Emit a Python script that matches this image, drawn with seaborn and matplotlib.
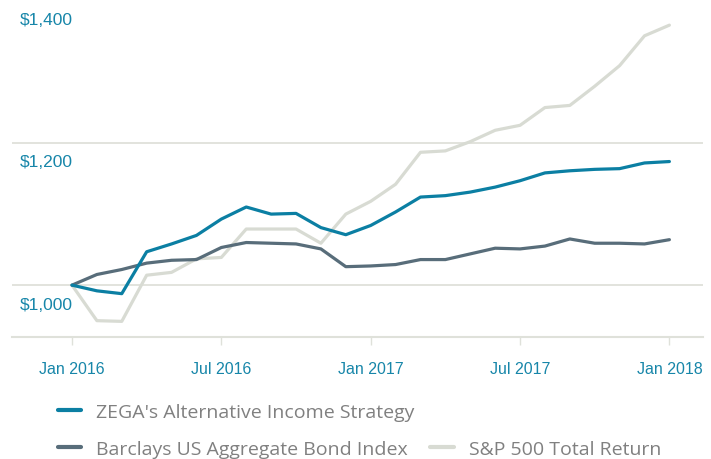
import pandas as pd
import matplotlib
matplotlib.use("Agg")
import matplotlib.pyplot as plt
from matplotlib.lines import Line2D
import seaborn as sns

# monthly growth of $1,000, Jan 2016 .. Jan 2018
months = pd.date_range("2016-01-01", "2018-01-01", freq="MS")
zega = [1000, 992, 988, 1047, 1058, 1070, 1093, 1110, 1100, 1101, 1081, 1071,
        1084, 1103, 1124, 1126, 1131, 1138, 1147, 1158, 1161, 1163, 1164, 1172, 1174]
barclays = [1000, 1015, 1022, 1031, 1035, 1036, 1053, 1060, 1059, 1058, 1051, 1026,
            1027, 1029, 1036, 1036, 1044, 1052, 1051, 1055, 1065, 1059, 1059, 1058, 1064]
sp500 = [1000, 950, 949, 1014, 1018, 1037, 1039, 1079, 1079, 1079, 1059, 1100,
         1118, 1142, 1187, 1189, 1202, 1218, 1225, 1250, 1253, 1280, 1309, 1351, 1366]
names = ["ZEGA's Alternative Income Strategy", "Barclays US Aggregate Bond Index",
         "S&P 500 Total Return"]
colors = ["#0b7fa3", "#586d7a", "#d8dbd3"]
tick_months = [0, 6, 12, 18, 24]
tick_labels = ["Jan 2016", "Jul 2016", "Jan 2017", "Jul 2017", "Jan 2018"]
y_ticks = [1000, 1200, 1400]
y_labels = ["$1,000", "$1,200", "$1,400"]

df = pd.DataFrame({"month": list(range(len(months))) * 3,
                   "value": zega + barclays + sp500,
                   "series": [n for n in names for _ in months]})

sns.set_style("white")
plt.rcParams["font.family"] = ["Liberation Sans", "DejaVu Sans"]

fig = plt.figure(figsize=(7.11, 4.60), dpi=100)
ax = fig.add_axes([12 / 711, 1 - 338 / 460, 691 / 711, 336 / 460])

# light series first so the others sit on top
order = [names[2], names[1], names[0]]
pal = dict(zip(names, colors))
for n in order:
    sns.lineplot(data=df[df["series"] == n], x="month", y="value", color=pal[n],
                 linewidth=2.3, ax=ax, legend=False)

ax.set_xlim(-2.41, 25.35)
ax.set_ylim(927, 1400)
ax.set_xlabel("")
ax.set_ylabel("")

for v in y_ticks[:2]:
    ax.axhline(v, color="#dfe1da", linewidth=1.3, zorder=0)
for v, lab in zip(y_ticks, y_labels):
    ax.text(8 / 711, v - 16, lab, transform=ax.get_yaxis_transform(),
            color="#1786a9", fontsize=12.5, va="top", ha="left")
ax.set_yticks([])

for s in ["top", "right", "left"]:
    ax.spines[s].set_visible(False)
ax.spines["bottom"].set_color("#dfe1da")
ax.spines["bottom"].set_linewidth(1.5)

ax.set_xticks(tick_months)
ax.set_xticklabels(tick_labels, fontsize=11.5, color="#1786a9")
ax.tick_params(axis="x", length=6, width=1, color="#dfe1da", pad=11, bottom=True)

handles = [Line2D([], [], color=colors[0], linewidth=3),
           Line2D([], [], color=colors[1], linewidth=3),
           Line2D([], [], color="none"),
           Line2D([], [], color=colors[2], linewidth=3)]
labels = [names[0], names[1], "", names[2]]
fig.legend(handles, labels, loc="lower left", bbox_to_anchor=(40 / 711, -0.035),
           ncol=2, frameon=False, handlelength=1.2,
           handletextpad=0.8, columnspacing=0.8, labelspacing=0.95,
           labelcolor="#808080", prop={"family": "Open Sans", "size": 14})

fig.savefig("out.png", dpi=100)
